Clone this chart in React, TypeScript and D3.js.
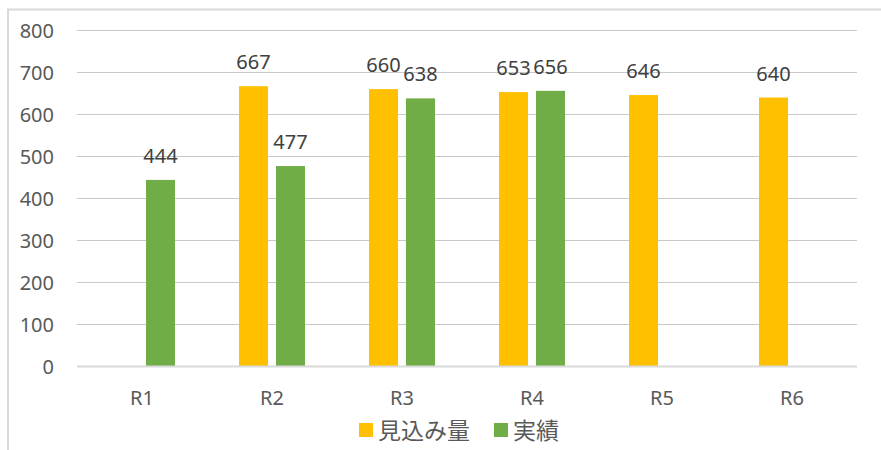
import React from 'react';
import * as d3 from 'd3';

const categories = ['R1', 'R2', 'R3', 'R4', 'R5', 'R6'];
const seriesNames = ['見込み量', '実績'];
const forecastValues: (number | null)[] = [null, 667, 660, 653, 646, 640];
const actualValues: (number | null)[] = [444, 477, 638, 656, null, null];
const yTicks = [0, 100, 200, 300, 400, 500, 600, 700, 800];
const seriesColors = ['#FFC000', '#70AD47'];

const W = 881;
const H = 450;
const FONT = '"Noto Sans", "Noto Sans CJK JP", sans-serif';

export default function App() {
  const margin = { top: 30.3, right: 24, bottom: 83.5, left: 77 };
  const y = d3.scaleLinear().domain([0, 800]).range([H - margin.bottom, margin.top]);
  const x0 = d3.scaleBand<string>().domain(categories).range([margin.left, W - margin.right]);
  const x1 = d3.scaleBand<string>()
    .domain(seriesNames)
    .range([0, x0.bandwidth()])
    .paddingInner(0.216)
    .paddingOuter(0.865);

  const values = [forecastValues, actualValues];

  return (
    <div style={{ position: 'absolute', left: 0, top: 0 }}>
      <svg width={W} height={H} style={{ display: 'block', background: '#fff' }} fontFamily={FONT}>
        <rect x={8} y={9.5} width={1000} height={1000} fill="#fff" stroke="#d9d9d9" strokeWidth={2} />

        {yTicks.map(t => (
          <g key={t}>
            {t !== 0 && (
              <line x1={margin.left} x2={W - margin.right} y1={Math.round(y(t)) + 0.5} y2={Math.round(y(t)) + 0.5}
                stroke="#c9c9c9" strokeWidth={1} />
            )}
            <text x={54} y={y(t)} dy="0.37em" textAnchor="end" fontSize={20} fill="#595959">{t}</text>
          </g>
        ))}

        {categories.map((c, i) => (
          <g key={c} transform={`translate(${x0(c)},0)`}>
            {seriesNames.map((s, j) => {
              const v = values[j][i];
              if (v == null) return null;
              const bx = x1(s)!;
              return (
                <g key={s}>
                  <rect x={bx} y={y(v)} width={x1.bandwidth()} height={y(0) - y(v)} fill={seriesColors[j]} />
                  <text x={bx + x1.bandwidth() / 2} y={y(v) - 17} textAnchor="middle" fontSize={20} fill="#404040">{v}</text>
                </g>
              );
            })}
            <text x={x0.bandwidth() / 2} y={405} textAnchor="middle" fontSize={20} fill="#595959">{c}</text>
          </g>
        ))}

        <line x1={margin.left} x2={W - margin.right} y1={y(0)} y2={y(0)} stroke="#d9d9d9" strokeWidth={2} />

        {seriesNames.map((s, j) => {
          const lx = [359, 494][j];
          return (
            <g key={s}>
              <rect x={lx} y={423} width={14} height={14} fill={seriesColors[j]} />
              <text x={lx + 19} y={439} fontSize={23} fill="#595959">{s}</text>
            </g>
          );
        })}
      </svg>
    </div>
  );
}
